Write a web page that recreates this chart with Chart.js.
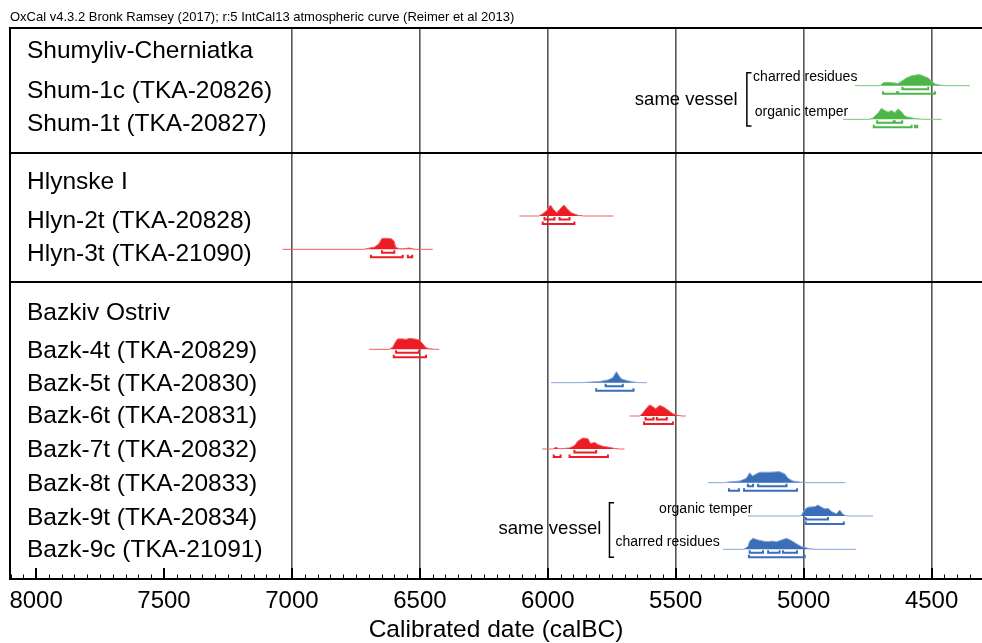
<!DOCTYPE html>
<html><head><meta charset="utf-8">
<script src="https://cdn.jsdelivr.net/npm/chart.js@4.4.1/dist/chart.umd.min.js"></script>
<style>html,body{margin:0;padding:0;background:#fff}#wrap{width:982px;height:643px;position:relative}</style>
</head><body><div id="wrap"><canvas id="c"></canvas></div>
<script>
const FONT = '"Liberation Sans", Arial, Helvetica, sans-serif';
const plotTitle = 'OxCal v4.3.2 Bronk Ramsey (2017); r:5 IntCal13 atmospheric curve (Reimer et al 2013)';
const axisTitle = 'Calibrated date (calBC)';
const tickLabels = [8000, 7500, 7000, 6500, 6000, 5500, 5000, 4500];
const gridDates = [7000, 6500, 6000, 5500, 5000, 4500];
const minorStep = 50;

const groups = ['Shumyliv-Cherniatka', 'Hlynske I', 'Bazkiv Ostriv'];
const groupRows = [0.69, 4.62, 8.55];
const separatorRows = [3.75, 7.62];

const samples = ['Shum-1c (TKA-20826)', 'Shum-1t (TKA-20827)', 'Hlyn-2t (TKA-20828)', 'Hlyn-3t (TKA-21090)',
  'Bazk-4t (TKA-20829)', 'Bazk-5t (TKA-20830)', 'Bazk-6t (TKA-20831)', 'Bazk-7t (TKA-20832)',
  'Bazk-8t (TKA-20833)', 'Bazk-9t (TKA-20834)', 'Bazk-9c (TKA-21091)'];
const labelRows = [1.89, 2.88, 5.79, 6.78, 9.69, 10.68, 11.64, 12.66, 13.68, 14.70, 15.66];
const baseRows = [1.73, 2.74, 5.64, 6.64, 9.64, 10.64, 11.64, 12.63, 13.64, 14.64, 15.64];
const sampleColors = ['green', 'green', 'red', 'red', 'red', 'blue', 'red', 'red', 'blue', 'blue', 'blue'];

// calibrated probability distributions: [date calBC, relative probability]
const shum1c = [[4800,0],[4700,0],[4690,0.25],[4676,0.3],[4645,0.25],[4631,0.2],[4617,0.4],[4598,0.7],[4578,0.9],[4553,1.0],[4539,0.95],[4526,0.8],[4513,0.7],[4500,0.4],[4487,0.15],[4468,0.05],[4440,0],[4350,0]];
const shum1t = [[4846,0],[4745,0],[4730,0.1],[4722,0.3],[4710,0.55],[4696,1.0],[4683,0.8],[4670,0.65],[4657,0.8],[4644,0.6],[4631,0.95],[4618,0.7],[4605,0.3],[4592,0.2],[4570,0.1],[4550,0.03],[4530,0],[4461,0]];
const hlyn2t = [[6111,0],[6035,0],[6020,0.2],[6004,0.5],[5990,1.0],[5978,0.6],[5965,0.3],[5954,0.6],[5937,1.0],[5922,0.6],[5908,0.3],[5883,0.07],[5860,0],[5743,0]];
const hlyn3t = [[7037,0],[6720,0],[6700,0.1],[6678,0.2],[6660,0.5],[6650,0.95],[6645,1.0],[6625,1.0],[6610,0.95],[6600,0.7],[6595,0.2],[6580,0.05],[6567,0.05],[6548,0.1],[6540,0.12],[6528,0.05],[6515,0],[6450,0]];
const bazk4t = [[6698,0],[6620,0],[6606,0.2],[6596,0.65],[6587,0.95],[6567,0.95],[6554,0.9],[6541,1.0],[6522,0.95],[6502,0.85],[6489,0.5],[6476,0.15],[6463,0.05],[6440,0],[6424,0]];
const bazk5t = [[5987,0],[5870,0],[5850,0.03],[5798,0.1],[5765,0.25],[5746,0.45],[5732,1.0],[5722,0.65],[5713,0.35],[5693,0.2],[5667,0.07],[5645,0],[5613,0]];
const bazk6t = [[5680,0],[5640,0],[5628,0.3],[5613,0.75],[5602,1.0],[5589,0.85],[5579,0.65],[5563,0.95],[5550,0.85],[5531,0.55],[5511,0.2],[5491,0.05],[5475,0],[5461,0]];
const bazk7t = [[6022,0],[5980,0],[5972,0.12],[5967,0.15],[5960,0.05],[5950,0.02],[5915,0.1],[5896,0.3],[5883,0.7],[5863,1.0],[5844,0.95],[5833,0.5],[5817,0.6],[5804,0.4],[5785,0.25],[5759,0.15],[5739,0.05],[5720,0],[5700,0]];
const bazk8t = [[5374,0],[5310,0],[5296,0.05],[5250,0.15],[5224,0.4],[5211,0.9],[5200,0.6],[5185,0.8],[5172,0.95],[5133,0.95],[5094,1.0],[5074,0.8],[5061,0.4],[5042,0.15],[5015,0.05],[4990,0],[4837,0]];
const bazk9t = [[5218,0],[5020,0],[5009,0.05],[4996,0.6],[4983,0.8],[4957,0.85],[4944,1.0],[4930,0.8],[4917,0.65],[4905,0.7],[4891,0.4],[4872,0.2],[4859,0.55],[4848,0.2],[4839,0.05],[4825,0],[4729,0]];
const bazk9c = [[5315,0],[5235,0],[5218,0.25],[5211,0.75],[5198,1.0],[5178,0.85],[5159,0.75],[5139,0.7],[5126,0.75],[5106,0.7],[5087,0.85],[5067,1.0],[5048,0.8],[5028,0.5],[5009,0.25],[4976,0.06],[4950,0],[4796,0]];
const dists = [shum1c, shum1t, hlyn2t, hlyn3t, bazk4t, bazk5t, bazk6t, bazk7t, bazk8t, bazk9t, bazk9c];

// 68.2% and 95.4% highest probability ranges [from, to] calBC
const ranges68 = [
  [[4614,4513]], [[4713,4648],[4644,4615]], [[6013,5974],[5954,5915]], [[6648,6600]],
  [[6593,6504]], [[5774,5707]], [[5618,5587],[5574,5535]], [[5896,5811]],
  [[5218,5198],[5178,5067]], [[4992,4905]], [[5211,5159],[5139,5094],[5081,5026]]
];
const ranges95 = [
  [[4690,4635],[4631,4487]], [[4726,4578],[4565,4556]], [[6020,5896]], [[6691,6567],[6547,6530]],
  [[6602,6476]], [[5811,5665]], [[5624,5511]], [[5977,5950],[5915,5765]],
  [[5292,5253],[5233,5026]], [[4992,4843]], [[5214,4996]]
];

// annotations
const noteTexts = ['same vessel', 'charred residues', 'organic temper', 'same vessel', 'organic temper', 'charred residues'];
const noteDates = [5258, 4790, 4826, 5791, 5200, 5328];
const noteRows = [2.16, 1.48, 2.51, 15.04, 14.44, 15.41];
const noteSizes = [18.5, 14, 14, 18.5, 14, 14];
const bracketDates = [5222, 5759];
const bracketTops = [1.34, 14.24];
const bracketBottoms = [2.94, 15.88];

const palette = {
  green: {fill: 'rgb(77,182,73)', line: 'rgb(120,200,115)'},
  red: {fill: 'rgb(237,28,36)', line: 'rgb(240,95,95)'},
  blue: {fill: 'rgb(59,110,185)', line: 'rgb(135,165,215)'}
};

const H = 0.33, OFF68 = 0.105, OFF95 = 0.24, TICK = 0.075, STUB = 18;

const datasets = [];
dists.forEach((d, i) => {
  const base = baseRows[i];
  const c = palette[sampleColors[i]];
  datasets.push({
    data: d.map(([x, p]) => ({x, y: base - p * H})),
    fill: {value: base}, backgroundColor: c.fill, borderColor: c.line, borderWidth: 1,
    pointRadius: 0, tension: 0
  });
  [[ranges68[i], OFF68], [ranges95[i], OFF95]].forEach(([rs, off]) => {
    const yy = base + off;
    const pts = [];
    rs.forEach(([a, b]) => {
      pts.push({x: a, y: yy - TICK}, {x: a, y: yy}, {x: b, y: yy}, {x: b, y: yy - TICK}, {x: b, y: null});
    });
    datasets.push({data: pts, borderColor: c.fill, borderWidth: 2, pointRadius: 0, fill: false, spanGaps: false, tension: 0});
  });
});
bracketDates.forEach((d, i) => {
  datasets.push({
    data: [{x: d - STUB, y: bracketTops[i]}, {x: d, y: bracketTops[i]}, {x: d, y: bracketBottoms[i]}, {x: d - STUB, y: bracketBottoms[i]}],
    borderColor: '#000', borderWidth: 1.5, pointRadius: 0, fill: false, tension: 0
  });
});

const overlay = {
  id: 'overlay',
  afterDraw(chart) {
    const {ctx, chartArea: a, scales: {x, y}} = chart;
    ctx.save();
    ctx.strokeStyle = '#000';
    ctx.lineWidth = 2;
    ctx.beginPath();
    ctx.moveTo(a.left - 1, a.top); ctx.lineTo(a.right, a.top);
    ctx.moveTo(a.left, a.top); ctx.lineTo(a.left, a.bottom);
    separatorRows.forEach(r => { const py = Math.round(y.getPixelForValue(r)); ctx.moveTo(a.left, py); ctx.lineTo(a.right, py); });
    ctx.stroke();
    x.ticks.forEach(t => {
      const px = x.getPixelForValue(t.value);
      const major = tickLabels.includes(t.value);
      ctx.lineWidth = major ? 2 : 1;
      ctx.beginPath();
      ctx.moveTo(major ? Math.round(px) : Math.round(px) + 0.5, a.bottom);
      ctx.lineTo(major ? Math.round(px) : Math.round(px) + 0.5, a.bottom - (major ? 11 : 4.5));
      ctx.stroke();
    });
    ctx.fillStyle = '#000';
    ctx.textBaseline = 'middle';
    ctx.textAlign = 'left';
    ctx.font = `13px ${FONT}`;
    ctx.fillText(plotTitle, a.left, 17);
    ctx.font = `24.5px ${FONT}`;
    groups.forEach((g, i) => ctx.fillText(g, a.left + 17, y.getPixelForValue(groupRows[i])));
    samples.forEach((s, i) => ctx.fillText(s, a.left + 17, y.getPixelForValue(labelRows[i])));
    ctx.textAlign = 'right';
    noteTexts.forEach((t, i) => {
      ctx.font = `${noteSizes[i]}px ${FONT}`;
      ctx.fillText(t, x.getPixelForValue(noteDates[i]), y.getPixelForValue(noteRows[i]));
    });
    ctx.restore();
  }
};

new Chart(document.getElementById('c'), {
  type: 'line',
  data: {datasets},
  plugins: [overlay],
  options: {
    responsive: true, maintainAspectRatio: false, animation: false,
    layout: {padding: {top: 28, left: 10, right: 0, bottom: 0}},
    plugins: {legend: {display: false}, tooltip: {enabled: false}, title: {display: false}},
    scales: {
      x: {
        type: 'linear', reverse: true, min: 4303, max: 8102, z: 1,
        afterBuildTicks: s => {
          const t = [];
          for (let v = 4350; v <= 8100; v += minorStep) t.push({value: v});
          s.ticks = t;
        },
        ticks: {autoSkip: false, maxRotation: 0, minRotation: 0, color: '#000', padding: 10,
          font: {family: FONT, size: 24, lineHeight: 1},
          callback: v => tickLabels.includes(v) ? String(v) : ''},
        grid: {drawTicks: false, lineWidth: 1.6,
          color: ctx => (ctx.tick && gridDates.includes(ctx.tick.value)) ? '#555555' : 'rgba(0,0,0,0)'},
        border: {display: true, color: '#000', width: 2},
        title: {display: true, text: axisTitle, color: '#000', font: {family: FONT, size: 24.5, lineHeight: 1}, padding: {top: -5, bottom: 0.5}}
      },
      y: {type: 'linear', reverse: true, min: 0, max: 16.53, display: false}
    }
  }
});
</script>
</body></html>
